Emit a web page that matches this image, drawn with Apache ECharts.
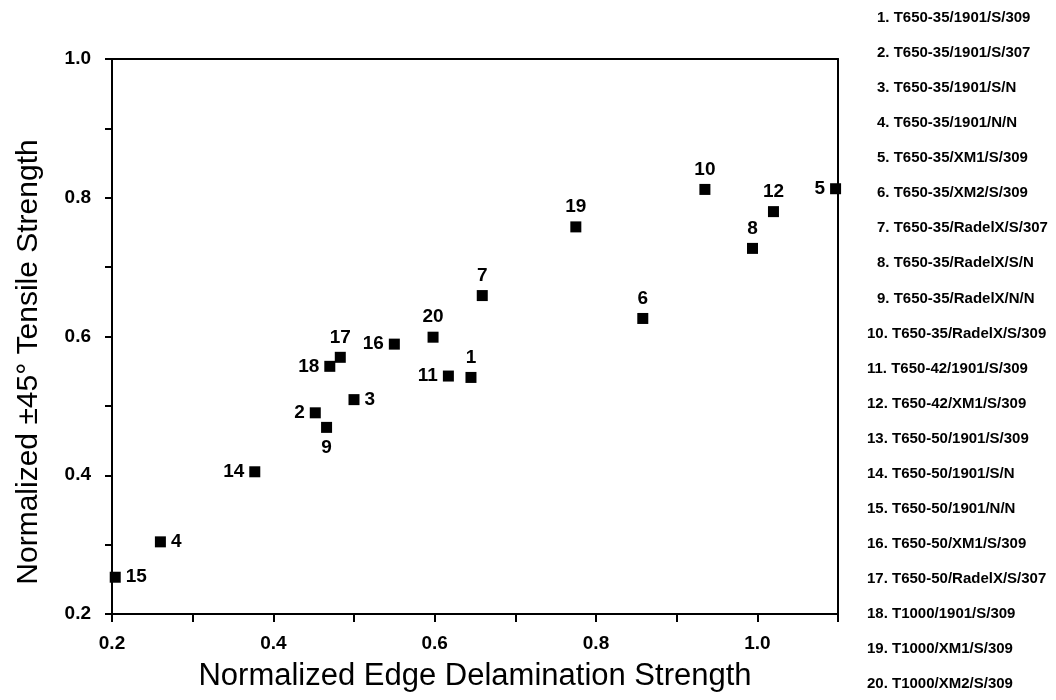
<!DOCTYPE html>
<html>
<head>
<meta charset="utf-8">
<script src="https://cdn.jsdelivr.net/npm/echarts@6/dist/echarts.min.js"></script>
<style>
  html, body { margin: 0; padding: 0; background: #fff; }
  #chart { width: 1056px; height: 700px; }
</style>
</head>
<body>
<div id="chart"></div>
<script>
// Laminate systems (numbered key on the right)
const systemNames = [
  'T650-35/1901/S/309',
  'T650-35/1901/S/307',
  'T650-35/1901/S/N',
  'T650-35/1901/N/N',
  'T650-35/XM1/S/309',
  'T650-35/XM2/S/309',
  'T650-35/RadelX/S/307',
  'T650-35/RadelX/S/N',
  'T650-35/RadelX/N/N',
  'T650-35/RadelX/S/309',
  'T650-42/1901/S/309',
  'T650-42/XM1/S/309',
  'T650-50/1901/S/309',
  'T650-50/1901/S/N',
  'T650-50/1901/N/N',
  'T650-50/XM1/S/309',
  'T650-50/RadelX/S/307',
  'T1000/1901/S/309',
  'T1000/XM1/S/309',
  'T1000/XM2/S/309'
];

// Measured points: system number, normalized edge delamination strength, normalized ±45° tensile strength
const pointIds        = [1,     2,     3,     4,     5,     6,     7,     8,     9,     10,    11,    12,    14,    15,    16,    17,    18,    19,    20];
const edgeStrength    = [0.645, 0.452, 0.500, 0.260, 1.097, 0.858, 0.659, 0.994, 0.466, 0.935, 0.617, 1.020, 0.377, 0.204, 0.550, 0.483, 0.470, 0.775, 0.598];
const tensileStrength = [0.541, 0.490, 0.509, 0.304, 0.813, 0.626, 0.659, 0.727, 0.469, 0.812, 0.543, 0.780, 0.405, 0.253, 0.589, 0.570, 0.557, 0.758, 0.599];

// Axis ranges and labelled ticks
const xRange = [0.2, 1.1];
const yRange = [0.2, 1.0];
const xTickLabels = ['0.2', '0.4', '0.6', '0.8', '1.0'];
const yTickLabels = ['0.2', '0.4', '0.6', '0.8', '1.0'];

// Side of the marker on which each number is written
const labelSide = {
  1: 'top', 2: 'left', 3: 'right', 4: 'right', 5: 'left', 6: 'top', 7: 'top',
  8: 'top', 9: 'bottom', 10: 'top', 11: 'left', 12: 'top', 14: 'left', 15: 'right',
  16: 'left', 17: 'top', 18: 'left', 19: 'top', 20: 'top'
};

const FONT = '"Liberation Sans", Arial, Helvetica, sans-serif';
const INK = '#000';

const points = pointIds.map((id, i) => ({
  value: [edgeStrength[i], tensileStrength[i]],
  label: { position: labelSide[id] || 'top' },
  name: String(id)
}));

const tickFmt = (list) => (v) => {
  const s = v.toFixed(1);
  return list.indexOf(s) >= 0 ? s : '';
};

// Numbered key drawn as plain text down the right edge
const keyTexts = systemNames.map((name, i) => ({
  type: 'text',
  left: i < 9 ? 877 : 867,
  top: 10.5 + i * 35.05,
  style: {
    text: (i + 1) + '. ' + name,
    font: 'bold 15px ' + FONT,
    fill: INK
  },
  silent: true
}));

const chart = echarts.init(document.getElementById('chart'), null, { renderer: 'canvas' });
chart.setOption({
  backgroundColor: '#fff',
  animation: false,
  grid: { left: 112, right: 218, top: 59, bottom: 86, containLabel: false },
  xAxis: [{
    type: 'value',
    min: xRange[0], max: xRange[1], interval: 0.1,
    name: 'Normalized Edge Delamination Strength',
    nameLocation: 'middle', nameGap: 47,
    nameTextStyle: { fontFamily: FONT, fontSize: 31, color: INK },
    axisLine: { show: true, onZero: false, lineStyle: { color: INK, width: 2 } },
    axisTick: { show: true, inside: false, length: 8, lineStyle: { color: INK, width: 2 } },
    axisLabel: { formatter: tickFmt(xTickLabels), fontFamily: FONT, fontWeight: 'bold', fontSize: 19, color: INK, margin: 20, showMaxLabel: true },
    splitLine: { show: false }
  }, {
    type: 'value', position: 'top',
    min: xRange[0], max: xRange[1],
    axisLine: { show: true, onZero: false, lineStyle: { color: INK, width: 2 } },
    axisTick: { show: false }, axisLabel: { show: false }, splitLine: { show: false }
  }],
  yAxis: [{
    type: 'value',
    min: yRange[0], max: yRange[1], interval: 0.1,
    axisLine: { show: true, onZero: false, lineStyle: { color: INK, width: 2 } },
    axisTick: { show: true, inside: false, length: 7, lineStyle: { color: INK, width: 2 } },
    axisLabel: { formatter: tickFmt(yTickLabels), fontFamily: FONT, fontWeight: 'bold', fontSize: 19, color: INK, margin: 21 },
    splitLine: { show: false }
  }, {
    type: 'value', position: 'right',
    min: yRange[0], max: yRange[1],
    axisLine: { show: true, onZero: false, lineStyle: { color: INK, width: 2 } },
    axisTick: { show: false }, axisLabel: { show: false }, splitLine: { show: false }
  }],
  series: [{
    type: 'scatter',
    xAxisIndex: 0, yAxisIndex: 0,
    symbol: 'rect',
    symbolSize: 11,
    itemStyle: { color: INK, opacity: 1 },
    label: {
      show: true,
      formatter: (p) => p.name,
      fontFamily: FONT, fontWeight: 'bold', fontSize: 19, color: INK,
      distance: 5
    },
    emphasis: { disabled: true },
    data: points,
    clip: false
  }],
  graphic: [{
    type: 'text',
    x: 29, y: 362,
    rotation: Math.PI / 2,
    style: {
      text: 'Normalized ±45° Tensile Strength',
      font: '30px ' + FONT,
      fill: INK,
      textAlign: 'center',
      textVerticalAlign: 'middle'
    },
    silent: true
  }].concat(keyTexts)
});
</script>
</body>
</html>
